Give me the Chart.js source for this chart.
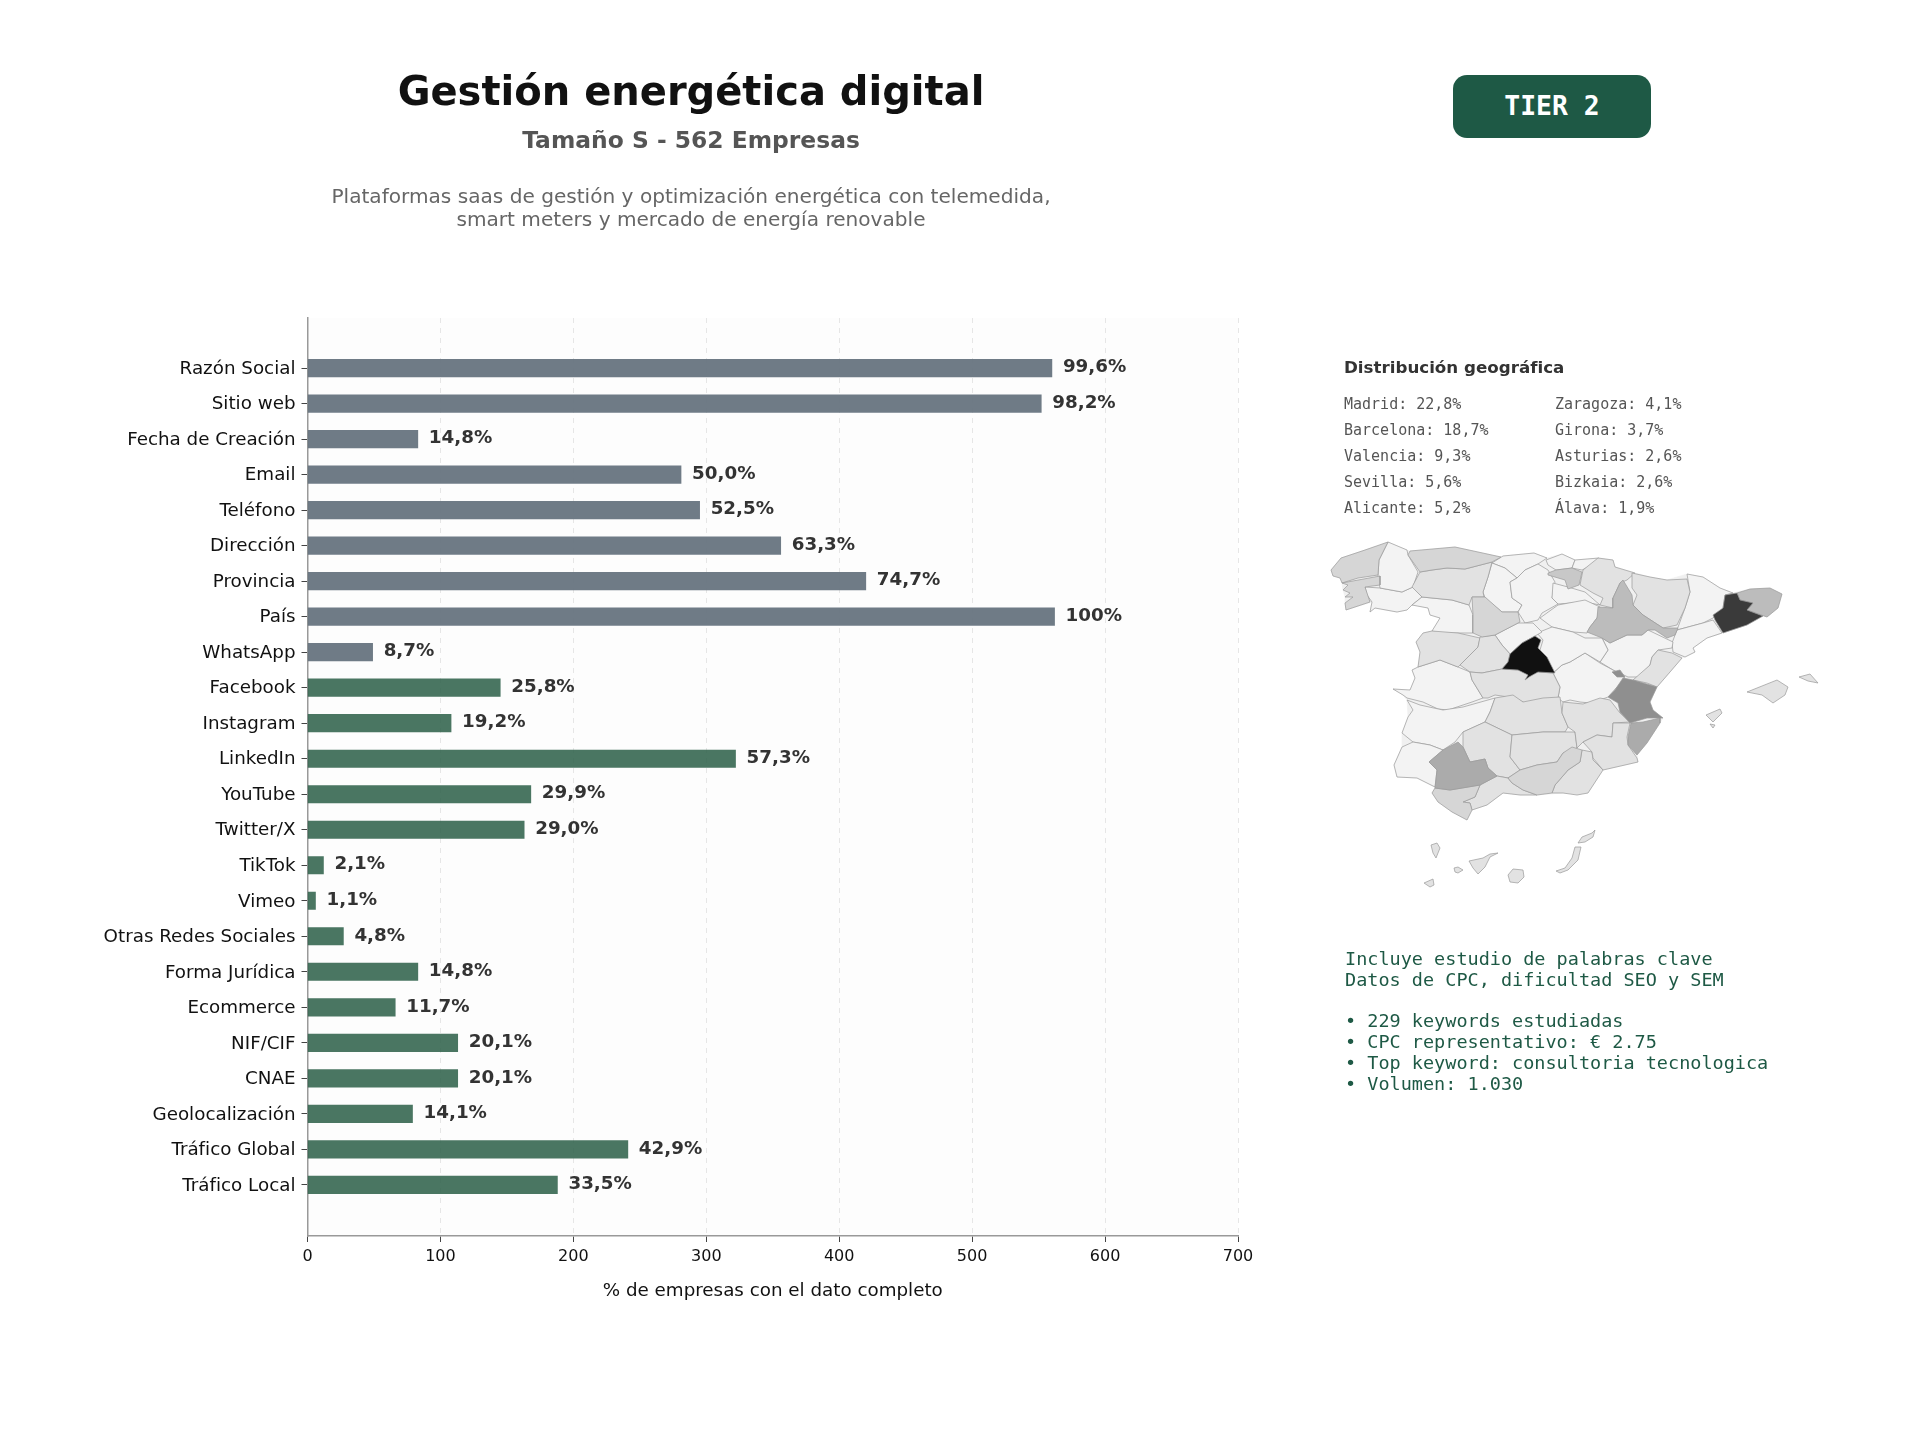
<!DOCTYPE html>
<html lang="es">
<head>
<meta charset="utf-8">
<title>Gestión energética digital</title>
<script src="https://cdn.jsdelivr.net/npm/chart.js@4/dist/chart.umd.min.js"></script>
<style>
  html, body { margin: 0; padding: 0; background: #fff; }
  #page { position: relative; width: 1920px; height: 1440px; overflow: hidden; font-family: "DejaVu Sans", sans-serif; }
  #barChart { position: absolute; left: 0; top: 0; }
  #mapChart { position: absolute; left: 1300px; top: 520px; }
  .txt { position: absolute; white-space: pre; line-height: 1; transform: translate(0, -50%); }
  .center { transform: translate(-50%, -50%); text-align: center; }
  .mono { font-family: "DejaVu Sans Mono", monospace; }
  #badge { position: absolute; left: 1453px; top: 75px; width: 198px; height: 63px; border-radius: 14px; background: #1e5945; color: #fff;
           font: bold 26.4px "DejaVu Sans Mono", monospace; display: flex; align-items: center; justify-content: center; white-space: pre; padding-bottom: 2px; box-sizing: border-box; }
</style>
</head>
<body>
<div id="page">
  <canvas id="barChart" width="1920" height="1440"></canvas>
  <canvas id="mapChart" width="540" height="380"></canvas>
  <div id="badge">TIER 2</div>
  <div class="txt center" style="left:691px;top:91px;font-size:40px;font-weight:bold;color:#111">Gestión energética digital</div>
  <div class="txt center" style="left:691px;top:141px;font-size:23.4px;font-weight:bold;color:#555">Tamaño S - 562 Empresas</div>
  <div class="txt center" style="left:691px;top:196px;font-size:20.1px;color:#666">Plataformas saas de gestión y optimización energética con telemedida,</div>
  <div class="txt center" style="left:691px;top:219px;font-size:20.1px;color:#666">smart meters y mercado de energía renovable</div>
  <div class="txt" style="left:1344px;top:367px;font-size:16.7px;font-weight:bold;color:#333">Distribución geográfica</div>
  <div id="geoList"></div>
  <div id="keywordList"></div>
</div>

<script>
// Bars: companies with each field filled in, out of the 562 in this group
const categories = ['Razón Social', 'Sitio web', 'Fecha de Creación', 'Email', 'Teléfono', 'Dirección', 'Provincia', 'País', 'WhatsApp',
    'Facebook', 'Instagram', 'LinkedIn', 'YouTube', 'Twitter/X', 'TikTok', 'Vimeo', 'Otras Redes Sociales', 'Forma Jurídica',
    'Ecommerce', 'NIF/CIF', 'CNAE', 'Geolocalización', 'Tráfico Global', 'Tráfico Local'];
const companyCounts = [560, 552, 83, 281, 295, 356, 420, 562, 49, 145, 108, 322, 168, 163, 12, 6, 27, 83, 66, 113, 113, 79, 241, 188];
const percentLabels = ['99,6%', '98,2%', '14,8%', '50,0%', '52,5%', '63,3%', '74,7%', '100%', '8,7%', '25,8%', '19,2%', '57,3%',
    '29,9%', '29,0%', '2,1%', '1,1%', '4,8%', '14,8%', '11,7%', '20,1%', '20,1%', '14,1%', '42,9%', '33,5%'];
const coreFieldCount = 9; // the first nine rows are the grey ones
const xTicks = [0, 100, 200, 300, 400, 500, 600, 700];

// Text lists on the right
const geoLeft = ['Madrid: 22,8%', 'Barcelona: 18,7%', 'Valencia: 9,3%', 'Sevilla: 5,6%', 'Alicante: 5,2%'];
const geoRight = ['Zaragoza: 4,1%', 'Girona: 3,7%', 'Asturias: 2,6%', 'Bizkaia: 2,6%', 'Álava: 1,9%'];
const keywordLines = ['Incluye estudio de palabras clave', 'Datos de CPC, dificultad SEO y SEM', '',
    '• 229 keywords estudiadas', '• CPC representativo: € 2.75', '• Top keyword: consultoria tecnologica', '• Volumen: 1.030'];

// Province outlines in map units
const peninsula = [[31,50],[41,38],[65,30],[88,22],[107,30],[110,31],[155,27],[201,37],[203,36],[234,33],[247,38],[262,34],[275,40],[299,38],[313,40],[315,47],[335,53],[350,57],[367,60],[387,54],[403,57],[420,68],[433,73],[450,69],[470,68],[482,74],[478,88],[467,97],[463,96],[447,105],[423,113],[407,118],[393,128],[395,132],[385,137],[382,138],[370,152],[357,167],[350,182],[353,190],[363,198],[360,203],[347,223],[337,235],[338,242],[325,245],[303,250],[288,273],[263,273],[237,275],[220,275],[203,273],[187,285],[172,290],[167,300],[152,292],[138,282],[132,273],[135,267],[117,258],[97,257],[94,245],[102,227],[102,213],[108,197],[107,180],[103,175],[93,169],[110,170],[115,158],[112,150],[118,147],[120,132],[116,122],[123,113],[132,111],[140,98],[130,95],[128,88],[112,85],[107,90],[97,92],[75,88],[70,92],[72,82],[46,90],[45,83],[45,77],[43,70],[42,63],[40,58],[33,56]];
const aCoruna = [[31,50],[41,38],[65,30],[88,22],[84,30],[79,40],[78,55],[58,58],[42,63],[40,58],[33,56]];
const pontevedra = [[42,63],[80,56],[80,65],[65,67],[70,82],[46,90],[45,83],[53,77],[45,77],[50,73],[43,70],[48,65]];
const ourense = [[65,67],[80,68],[102,72],[113,67],[122,77],[112,85],[107,90],[97,92],[75,88],[70,92],[72,82],[67,75]];
const lugo = [[88,22],[107,30],[108,35],[118,52],[113,67],[102,72],[80,68],[78,55],[79,40],[84,30]];
const asturias = [[110,31],[155,27],[201,37],[192,42],[165,49],[147,48],[132,50],[120,52],[108,35]];
const leon = [[120,52],[132,50],[147,48],[165,49],[192,42],[188,57],[183,72],[184,77],[172,77],[169,85],[152,80],[122,77],[112,67]];
const cantabria = [[192,43],[203,36],[234,33],[247,38],[238,44],[225,50],[217,58],[205,48]];
const palencia = [[192,43],[205,48],[217,58],[210,62],[212,78],[222,85],[218,92],[202,92],[185,78],[183,72],[188,57]];
const burgos = [[217,58],[225,50],[238,44],[248,50],[255,62],[252,78],[258,84],[242,93],[238,100],[225,103],[218,92],[222,85],[212,78],[210,62]];
const bizkaia = [[246,40],[262,34],[275,40],[272,48],[256,50],[248,45]];
const gipuzkoa = [[275,40],[299,38],[292,45],[282,50],[272,48]];
const alava = [[248,53],[256,50],[272,48],[282,52],[279,65],[268,69],[265,60],[248,55]];
const navarra = [[280,65],[283,50],[298,38],[313,40],[315,47],[335,53],[327,60],[320,63],[313,78],[313,88],[300,85],[303,78],[293,73]];
const rioja = [[253,63],[268,67],[285,72],[300,85],[285,82],[258,84],[252,78]];
const soria = [[240,98],[258,85],[285,80],[300,87],[297,98],[290,107],[287,113],[273,112],[252,107]];
const zaragoza = [[323,60],[332,75],[333,85],[343,95],[363,108],[378,108],[375,115],[367,118],[355,110],[348,110],[342,115],[327,115],[310,123],[302,118],[287,112],[290,107],[297,98],[298,87],[313,88],[313,78],[320,63]];
const huesca = [[332,53],[350,57],[367,60],[387,59],[390,72],[385,88],[377,105],[363,108],[343,95],[333,85],[337,75],[332,68]];
const lleida = [[387,54],[403,57],[420,68],[433,73],[425,75],[423,88],[413,98],[403,103],[377,110],[385,88],[390,72]];
const girona = [[437,73],[450,69],[470,68],[482,74],[478,88],[467,97],[447,90],[453,83],[440,80]];
const barcelona = [[425,75],[437,73],[440,80],[453,83],[447,90],[463,96],[447,105],[423,113],[415,100],[413,95],[423,88]];
const tarragona = [[377,110],[403,103],[413,100],[422,113],[407,118],[393,128],[395,132],[385,137],[373,132],[372,123]];
const teruel = [[302,118],[310,123],[327,115],[342,115],[348,110],[373,122],[372,128],[358,130],[352,137],[350,145],[338,157],[328,157],[313,150],[300,142],[308,130]];
const castellon = [[358,130],[372,133],[382,138],[370,152],[357,167],[347,163],[333,160],[350,145],[352,137]];
const valencia = [[323,158],[333,160],[357,167],[350,182],[353,190],[363,198],[347,198],[330,203],[320,192],[318,183],[308,177],[315,170]];
const ademuz = [[312,152],[320,150],[325,157],[317,157]];
const alicante = [[328,217],[331,203],[343,202],[360,198],[360,203],[347,223],[337,235],[328,225]];
const murcia = [[283,222],[297,215],[312,217],[313,203],[330,203],[327,217],[328,225],[337,238],[338,242],[325,245],[303,250],[293,238],[292,232]];
const albacete = [[263,182],[283,184],[300,178],[310,180],[320,193],[330,202],[313,203],[312,217],[297,215],[283,222],[277,228],[275,212],[268,207],[262,193]];
const cuenca = [[253,153],[262,145],[270,142],[285,133],[300,143],[313,150],[325,158],[308,177],[300,180],[290,183],[280,182],[270,180],[263,182],[258,178],[260,167]];
const guadalajara = [[237,113],[252,107],[273,112],[285,118],[302,118],[308,130],[300,142],[285,133],[270,142],[262,145],[253,153],[248,140],[240,130],[243,120]];
const madrid = [[235,116],[241,120],[238,128],[247,137],[252,147],[255,153],[238,152],[229,157],[225,160],[228,155],[218,150],[202,149],[208,142],[210,134],[222,123]];
const segovia = [[195,115],[218,103],[233,103],[242,112],[235,116],[222,123],[210,134],[202,125]];
const valladolid = [[172,77],[185,77],[202,92],[218,92],[220,102],[195,115],[182,117],[173,113],[173,95]];
const zamora = [[112,85],[122,77],[152,80],[169,85],[173,95],[173,113],[158,113],[140,113],[132,111],[140,98],[130,95],[128,88]];
const salamanca = [[116,122],[123,113],[132,111],[158,113],[180,118],[178,127],[165,140],[158,147],[140,140],[118,147],[120,132]];
const avila = [[180,117],[195,115],[202,125],[210,134],[208,142],[202,149],[182,153],[170,152],[160,145],[165,140],[178,127]];
const caceres = [[112,150],[118,147],[140,140],[158,147],[170,152],[172,160],[183,178],[172,182],[148,190],[138,189],[123,182],[107,178],[103,175],[93,169],[110,170],[115,158]];
const toledo = [[170,152],[182,153],[202,149],[218,150],[238,152],[253,153],[260,167],[258,178],[242,182],[225,183],[215,178],[195,175],[188,178],[183,178],[172,160]];
const ciudadReal = [[195,178],[213,175],[223,182],[243,178],[260,177],[262,193],[268,207],[265,212],[243,212],[212,215],[185,202],[190,192]];
const badajoz = [[107,180],[120,185],[143,190],[163,187],[195,178],[190,192],[185,202],[163,212],[155,222],[143,230],[130,225],[113,222],[102,213],[108,197],[113,190]];
const huelva = [[102,227],[113,222],[130,225],[143,230],[129,242],[137,250],[135,267],[117,258],[97,257],[94,245]];
const sevilla = [[143,230],[158,222],[163,227],[170,242],[185,239],[188,248],[197,256],[180,265],[150,270],[135,268],[137,250],[129,242]];
const cordoba = [[163,212],[185,202],[212,215],[210,237],[220,250],[208,258],[197,256],[188,248],[185,239],[170,242],[163,227]];
const jaen = [[212,215],[243,212],[275,212],[277,228],[263,233],[257,242],[237,245],[220,250],[210,237]];
const granada = [[220,250],[237,245],[257,242],[263,233],[272,227],[282,230],[280,242],[268,250],[262,257],[255,265],[252,273],[237,275],[223,270],[212,263],[208,258]];
const almeria = [[282,230],[292,232],[293,240],[303,250],[288,273],[277,275],[263,273],[252,273],[255,265],[262,257],[268,250],[280,242]];
const malaga = [[197,256],[208,258],[212,263],[223,270],[237,275],[220,275],[203,273],[187,285],[172,290],[170,283],[163,282],[175,277],[180,265]];
const cadiz = [[135,268],[150,270],[180,265],[175,277],[163,282],[170,283],[172,290],[167,300],[152,292],[138,282],[132,273]];
const mallorca = [[447,172],[477,160],[488,167],[485,175],[473,183],[462,175]];
const menorca = [[499,157],[510,154],[518,163],[508,161]];
const ibiza = [[406,195],[420,189],[422,193],[413,202]];
const formentera = [[410,204],[415,205],[413,208]];
const laPalma = [[131,325],[137,323],[140,328],[136,338],[133,333]];
const tenerife = [[169,341],[183,338],[190,334],[198,333],[190,337],[185,347],[178,354],[173,348]];
const laGomera = [[154,348],[158,347],[163,350],[158,353],[155,352]];
const elHierro = [[124,363],[133,359],[134,365],[130,367]];
const granCanaria = [[208,355],[213,349],[223,350],[224,357],[218,363],[210,362]];
const fuerteventura = [[256,351],[265,348],[272,338],[275,327],[281,327],[278,340],[268,350],[260,353]];
const lanzarote = [[278,323],[282,317],[292,313],[295,310],[293,317],[285,322]];

// Grey groups, lightest first
const paleProvinces = [ourense, lugo, cantabria, palencia, burgos, bizkaia, gipuzkoa, rioja, soria, lleida, tarragona, teruel, cuenca, guadalajara,
    segovia, zamora, caceres, badajoz, huelva];
const lightProvinces = [leon, navarra, huesca, salamanca, avila, toledo, ciudadReal, cordoba, jaen, almeria, malaga, albacete, murcia, castellon,
    mallorca, menorca, ibiza, formentera, laPalma, tenerife, laGomera, elHierro, granCanaria, fuerteventura, lanzarote];
const midProvinces = [aCoruna, pontevedra, asturias, valladolid, granada, cadiz];
const alavaGroup = [alava];
const zaragozaGroup = [zaragoza, girona];
const sevillaGroup = [sevilla, alicante];
const valenciaGroup = [valencia, ademuz];
const barcelonaGroup = [barcelona];
const madridGroup = [madrid];

// Background of the plot and the percentage next to each bar
const barExtras = {
    id: 'barExtras',
    beforeDraw(chart) {
        const { ctx, chartArea: a } = chart;
        ctx.save();
        ctx.fillStyle = '#fdfdfd';
        ctx.fillRect(a.left, a.top, a.width, a.height);
        ctx.restore();
    },
    afterDatasetsDraw(chart) {
        const { ctx, scales } = chart;
        ctx.save();
        ctx.font = 'bold 18.3px "DejaVu Sans"';
        ctx.fillStyle = '#333';
        ctx.textBaseline = 'middle';
        companyCounts.forEach((v, i) => {
            ctx.fillText(percentLabels[i], scales.x.getPixelForValue(v) + 11, scales.y.getPixelForValue(i) - 0.5);
        });
        ctx.restore();
    }
};

new Chart(document.getElementById('barChart'), {
    type: 'bar',
    data: {
        datasets: [{
            data: companyCounts.map((v, i) => ({ x: v, y: i })),
            backgroundColor: companyCounts.map((v, i) => i < coreFieldCount ? 'rgba(100,113,125,0.93)' : 'rgba(47,98,75,0.87)'),
            barThickness: 17.5,
        }],
    },
    plugins: [barExtras],
    options: {
        indexAxis: 'y',
        responsive: false,
        animation: false,
        layout: { padding: { left: 7.5, top: 318, right: 682, bottom: 134 } },
        plugins: { legend: { display: false }, tooltip: { enabled: false } },
        scales: {
            x: {
                type: 'linear',
                min: 0,
                max: 700,
                afterBuildTicks: (scale) => { scale.ticks = xTicks.map((value) => ({ value })); },
                afterFit: (scale) => { scale.height = 70; },
                grid: { color: '#e6e6e6', tickColor: '#444', tickLength: 6 },
                border: { color: '#999', width: 1.5, dash: [5, 5] },
                ticks: { color: '#111', font: { family: 'DejaVu Sans', size: 16 }, padding: 5, maxRotation: 0 },
                title: { display: true, text: '% de empresas con el dato completo', color: '#111', font: { family: 'DejaVu Sans', size: 18.3 }, padding: { top: 0 } },
            },
            y: {
                type: 'linear',
                reverse: true,
                offset: false,
                min: -1.41,
                max: 24.44,
                afterBuildTicks: (scale) => { scale.ticks = categories.map((c, i) => ({ value: i })); },
                afterFit: (scale) => { scale.width = 300; },
                grid: { offset: false, drawOnChartArea: false, tickColor: '#444', tickLength: 6 },
                border: { color: '#999', width: 1.5 },
                ticks: {
                    color: '#111',
                    font: { family: 'DejaVu Sans', size: 18.3 },
                    padding: 6,
                    labelOffset: 1,
                    autoSkip: false,
                    callback: (value) => categories[value],
                },
            },
        },
    },
});

// Choropleth of provinces, each one a closed filled line on the map's scales
function provinceDatasets(group, shade, edge = '#9a9a9a') {
    return group.map((outline) => ({
        data: outline.concat([outline[0]]).map(([x, y]) => ({ x, y })),
        showLine: true,
        fill: 'shape',
        backgroundColor: shade,
        borderColor: edge,
        borderWidth: 0.7,
        pointRadius: 0,
        tension: 0,
    }));
}

// Chart.js paints dataset 0 last, so reverse the list to keep the darker provinces on top
const mapDatasets = [
    ...provinceDatasets([peninsula], '#f0f0f0', '#f0f0f0'),
    ...provinceDatasets(paleProvinces, '#f3f3f3'),
    ...provinceDatasets(lightProvinces, '#e2e2e2'),
    ...provinceDatasets(midProvinces, '#d6d6d6'),
    ...provinceDatasets(alavaGroup, '#c8c8c8'),
    ...provinceDatasets(zaragozaGroup, '#bcbcbc'),
    ...provinceDatasets(sevillaGroup, '#ababab'),
    ...provinceDatasets(valenciaGroup, '#8f8f8f'),
    ...provinceDatasets(barcelonaGroup, '#3a3a3a'),
    ...provinceDatasets(madridGroup, '#111111'),
].reverse();

new Chart(document.getElementById('mapChart'), {
    type: 'scatter',
    data: { datasets: mapDatasets },
    options: {
        responsive: false,
        animation: false,
        layout: { padding: 0 },
        plugins: { legend: { display: false }, tooltip: { enabled: false } },
        scales: {
            x: { display: false, min: 0, max: 540 },
            y: { display: false, min: 0, max: 380, reverse: true },
        },
    },
});

// Fill in the text lists
function addLine(parent, text, left, top, size, color) {
    const el = document.createElement('div');
    el.className = 'txt mono';
    el.textContent = text;
    el.style.cssText = `left:${left}px;top:${top}px;font-size:${size}px;color:${color}`;
    parent.appendChild(el);
}
const page = document.getElementById('page');
const geoRows = [404, 430, 456, 482, 508];
geoLeft.forEach((t, i) => addLine(page, t, 1344, geoRows[i], 15, '#555'));
geoRight.forEach((t, i) => addLine(page, t, 1555, geoRows[i], 15, '#555'));
const keywordRows = [959, 980, 1000, 1021, 1042, 1063, 1084];
keywordLines.forEach((t, i) => addLine(page, t, 1345, keywordRows[i], 18.5, '#1e5945'));
</script>
</body>
</html>
